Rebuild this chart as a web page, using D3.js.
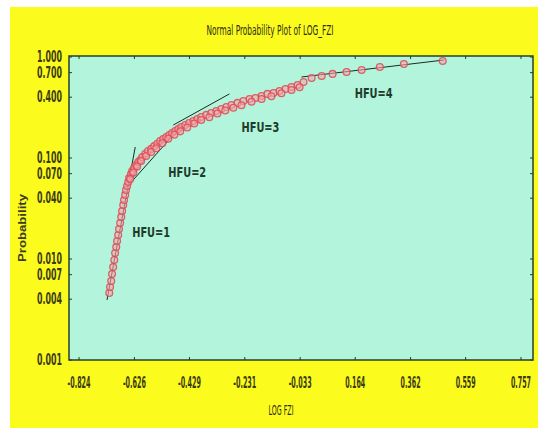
<!DOCTYPE html>
<html>
<head>
<meta charset="utf-8">
<script src="https://cdn.jsdelivr.net/npm/d3@7"></script>
<style>
  body { margin: 0; background: #ffffff; }
  svg text { font-family: "Liberation Sans Narrow", "DejaVu Sans Condensed", "Liberation Sans", sans-serif; }
</style>
</head>
<body>
<div id="my_dataviz"></div>
<script>
var width = 538,
    height = 430

var plotLeft = 69, plotRight = 533, plotTop = 56, plotBottom = 360

// tick labels
var xTicks = [-0.824, -0.626, -0.429, -0.231, -0.033, 0.164, 0.362, 0.559, 0.757]
var yTicks = [0.001, 0.004, 0.007, 0.010, 0.040, 0.070, 0.100, 0.400, 0.700, 1.000]

// observed LOG FZI and its plotting probability
var logFzi = [-0.716, -0.713, -0.709, -0.706, -0.702, -0.698, -0.695, -0.691, -0.688, -0.684,
              -0.681, -0.677, -0.673, -0.670, -0.666, -0.663, -0.659, -0.656, -0.652, -0.648,
              -0.645, -0.638, -0.634, -0.627, -0.620, -0.612, -0.605, -0.598, -0.587, -0.577,
              -0.566, -0.555, -0.544, -0.534, -0.523, -0.512, -0.501, -0.491, -0.480, -0.469,
              -0.458, -0.444, -0.430, -0.415, -0.401, -0.387, -0.369, -0.351, -0.333, -0.315,
              -0.297, -0.279, -0.257, -0.236, -0.214, -0.193, -0.171, -0.150, -0.128, -0.107,
              -0.085, -0.064, -0.042, -0.021, 0.008, 0.044, 0.083, 0.133, 0.187, 0.252,
              0.338, 0.477,
              -0.641, -0.630, -0.616, -0.602, -0.584, -0.566, -0.548, -0.526, -0.505, -0.483,
              -0.462, -0.437, -0.412, -0.387, -0.358, -0.329, -0.301, -0.272, -0.243, -0.207,
              -0.171, -0.136, -0.100, -0.064, -0.035]
var prob = [0.00460, 0.00528, 0.00605, 0.00710, 0.00834, 0.00977, 0.01146, 0.01315, 0.01507, 0.0173,
            0.0198, 0.0227, 0.0261, 0.0299, 0.0343, 0.0384, 0.0431, 0.0482, 0.0528, 0.0578,
            0.0634, 0.0695, 0.0743, 0.0796, 0.0853, 0.0912, 0.0955, 0.102, 0.110, 0.117,
            0.123, 0.131, 0.138, 0.147, 0.154, 0.161, 0.169, 0.177, 0.185, 0.194,
            0.203, 0.212, 0.222, 0.232, 0.243, 0.255, 0.267, 0.279, 0.292, 0.305,
            0.320, 0.335, 0.351, 0.366, 0.384, 0.393, 0.411, 0.431, 0.440, 0.460,
            0.482, 0.505, 0.528, 0.565, 0.619, 0.649, 0.680, 0.710, 0.743, 0.797,
            0.853, 0.913,
            0.0619, 0.0718, 0.0824, 0.0933, 0.1047, 0.1146, 0.1247, 0.140, 0.155, 0.170,
            0.1836, 0.2004, 0.2198, 0.2377, 0.2535, 0.2754, 0.2958, 0.3148, 0.3327, 0.3604,
            0.3837, 0.4085, 0.4375, 0.471, 0.501]

// fitted line per flow unit
var hfuNames = ["HFU=1", "HFU=2", "HFU=3", "HFU=4"]
var fitX0 = [-0.724, -0.656, -0.487, -0.028]
var fitP0 = [0.00393, 0.0505, 0.212, 0.634]
var fitX1 = [-0.623, -0.458, -0.286, 0.481]
var fitP1 = [0.1285, 0.2075, 0.431, 0.933]
var labelX = [-0.634, -0.505, -0.243, 0.162]
var labelP = [0.0165, 0.0649, 0.181, 0.393]

var svg = d3.select("#my_dataviz")
  .append("svg")
    .attr("width", width)
    .attr("height", height)

svg.append("rect")
  .attr("x", 10).attr("y", 7)
  .attr("width", width - 10).attr("height", 421)
  .attr("fill", "#fbfb1e")

var x = d3.scaleLinear()
  .domain([-0.860, 0.800])
  .range([plotLeft, plotRight])

var y = d3.scaleLog()
  .domain([0.001, 1])
  .range([plotBottom, plotTop + 1])

svg.append("rect")
  .attr("x", plotLeft).attr("y", plotTop)
  .attr("width", plotRight - plotLeft).attr("height", plotBottom - plotTop)
  .attr("fill", "#b2f5dc")

var tickCol = "#3a3a12"

// inside ticks
svg.selectAll("ytick")
  .data(yTicks)
  .enter()
  .append("line")
    .attr("x1", plotLeft).attr("x2", plotLeft + 3)
    .attr("y1", function(d){ return y(d) }).attr("y2", function(d){ return y(d) })
    .attr("stroke", "#2b3b2b")
svg.selectAll("ytickR")
  .data(yTicks)
  .enter()
  .append("line")
    .attr("x1", plotRight).attr("x2", plotRight - 3)
    .attr("y1", function(d){ return y(d) }).attr("y2", function(d){ return y(d) })
    .attr("stroke", "#2b3b2b")
svg.selectAll("xtick")
  .data(xTicks)
  .enter()
  .append("line")
    .attr("x1", function(d){ return x(d) }).attr("x2", function(d){ return x(d) })
    .attr("y1", plotBottom).attr("y2", plotBottom - 3)
    .attr("stroke", "#2b3b2b")
svg.selectAll("xtickT")
  .data(xTicks)
  .enter()
  .append("line")
    .attr("x1", function(d){ return x(d) }).attr("x2", function(d){ return x(d) })
    .attr("y1", plotTop).attr("y2", plotTop + 3)
    .attr("stroke", "#2b3b2b")

svg.selectAll("ylabels")
  .data(yTicks)
  .enter()
  .append("text")
    .attr("x", 62)
    .attr("y", function(d){ return y(d) + 5 })
    .attr("text-anchor", "end")
    .attr("font-size", 15)
    .attr("font-weight", "bold")
    .attr("textLength", 25)
    .attr("lengthAdjust", "spacingAndGlyphs")
    .attr("fill", tickCol)
    .text(function(d){ return d.toFixed(3) })

svg.selectAll("xlabels")
  .data(xTicks)
  .enter()
  .append("text")
    .attr("x", function(d){ return x(d) })
    .attr("y", 388)
    .attr("text-anchor", "middle")
    .attr("font-size", 15)
    .attr("font-weight", "bold")
    .attr("textLength", function(d){ return d < 0 ? 23 : 20 })
    .attr("lengthAdjust", "spacingAndGlyphs")
    .attr("fill", tickCol)
    .text(function(d){ return d.toFixed(3) })

// fitted lines
svg.selectAll("fits")
  .data(hfuNames)
  .enter()
  .append("line")
    .attr("x1", function(d, i){ return x(fitX0[i]) })
    .attr("y1", function(d, i){ return y(fitP0[i]) })
    .attr("x2", function(d, i){ return x(fitX1[i]) })
    .attr("y2", function(d, i){ return y(fitP1[i]) })
    .attr("stroke", "#1c2a22")
    .attr("stroke-width", 1)

// observations
svg.selectAll("pts")
  .data(logFzi)
  .enter()
  .append("circle")
    .attr("cx", function(d){ return x(d) })
    .attr("cy", function(d, i){ return y(prob[i]) })
    .attr("r", 3.4)
    .attr("fill", "#f3a9ac")
    .attr("fill-opacity", 0.6)
    .attr("stroke", "#dd4a55")
    .attr("stroke-width", 1.3)
    .attr("stroke-opacity", 0.85)

svg.selectAll("hfu")
  .data(hfuNames)
  .enter()
  .append("text")
    .attr("x", function(d, i){ return x(labelX[i]) })
    .attr("y", function(d, i){ return y(labelP[i]) })
    .attr("font-size", 14)
    .attr("font-weight", "bold")
    .attr("textLength", 38)
    .attr("lengthAdjust", "spacingAndGlyphs")
    .attr("fill", "#1f3b2b")
    .text(function(d){ return d })

svg.append("rect")
  .attr("x", plotLeft).attr("y", plotTop)
  .attr("width", plotRight - plotLeft).attr("height", plotBottom - plotTop)
  .attr("fill", "none")
  .attr("stroke", "#24402c")
  .attr("stroke-width", 1.5)

svg.append("text")
  .attr("x", 270).attr("y", 35)
  .attr("text-anchor", "middle")
  .attr("font-size", 14)
  .attr("textLength", 127)
  .attr("lengthAdjust", "spacingAndGlyphs")
  .attr("fill", "#2e2e14")
  .text("Normal Probability Plot of LOG_FZI")

svg.append("text")
  .attr("x", 281).attr("y", 415)
  .attr("text-anchor", "middle")
  .attr("font-size", 14)
  .attr("textLength", 25)
  .attr("lengthAdjust", "spacingAndGlyphs")
  .attr("fill", "#2e2e14")
  .text("LOG FZI")

svg.append("text")
  .attr("transform", "translate(26,228) rotate(-90)")
  .attr("text-anchor", "middle")
  .attr("font-size", 11)
  .attr("font-weight", "bold")
  .attr("textLength", 68)
  .attr("lengthAdjust", "spacingAndGlyphs")
  .style("font-family", "'Liberation Sans', Arial, sans-serif")
  .attr("fill", "#3a3a20")
  .text("Probability")
</script>
</body>
</html>
